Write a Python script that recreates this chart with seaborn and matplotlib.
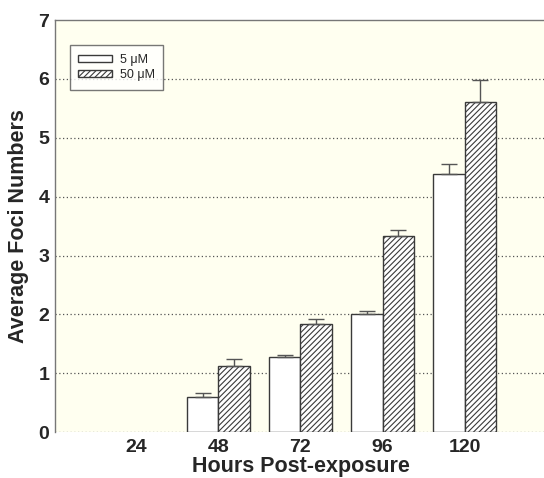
import seaborn as sns
import matplotlib.pyplot as plt
import pandas as pd
import numpy as np

#data
hours = ["24", "48", "72", "96", "120"]
conc_labels = ["5 μM", "50 μM"]
foci_5 = [0.0, 0.60, 1.28, 2.00, 4.38]
err_5 = [0.0, 0.07, 0.03, 0.05, 0.17]
foci_50 = [0.0, 1.13, 1.83, 3.33, 5.60]
err_50 = [0.0, 0.12, 0.10, 0.10, 0.38]

df = pd.DataFrame({
    "Hours": hours * 2,
    "Foci": foci_5 + foci_50,
    "Conc": [conc_labels[0]] * 5 + [conc_labels[1]] * 5,
})

sns.set_style("white")
plt.rcParams["font.family"] = ["Liberation Sans", "DejaVu Sans"]
plt.rcParams["hatch.linewidth"] = 0.8

fig = plt.figure(figsize=(5.44, 4.78), dpi=100)
ax = fig.add_axes([0.101, 0.096, 0.904, 0.862])
ax.set_facecolor("#fffff0")

sns.barplot(data=df, x="Hours", y="Foci", hue="Conc", order=hours, hue_order=conc_labels,
            palette=["white", "white"], edgecolor="#3a3a3a", linewidth=1.0,
            width=0.76, errorbar=None, ax=ax, legend=True)

# hatch the 50 uM bars and add upward error bars
bars = list(ax.patches)[:10]
for i, p in enumerate(bars):
    grp = i // 5
    k = i % 5
    if grp == 1:
        p.set_hatch("//////")
    if p.get_height() == 0:
        p.set_linewidth(0)
    err = err_5[k] if grp == 0 else err_50[k]
    val = foci_5[k] if grp == 0 else foci_50[k]
    if err > 0:
        xc = p.get_x() + p.get_width() / 2
        ax.errorbar(xc, val, yerr=[[0], [err]], fmt="none", ecolor="#555555",
                    elinewidth=1.0, capsize=6, capthick=1.0)

ax.set_ylim(0, 7)
ax.set_xlim(-0.99, 5.0)
ax.set_yticks(range(8))
for y in range(0, 7):
    ax.axhline(y, color="#555555", linestyle=(0, (1, 2)), linewidth=0.9, zorder=0)

ax.tick_params(axis="both", labelsize=14, length=0)
ax.tick_params(axis="x", pad=5)
ax.tick_params(axis="y", pad=4)
for lab in ax.get_xticklabels() + ax.get_yticklabels():
    lab.set_fontweight("bold")
ax.set_xlabel("Hours Post-exposure", fontsize=15.5, fontweight="bold", labelpad=0)
ax.set_ylabel("Average Foci Numbers", fontsize=15.5, fontweight="bold", labelpad=7)

ax.spines["right"].set_visible(False)
ax.spines["bottom"].set_visible(False)
for side in ["left", "top"]:
    ax.spines[side].set_color("#777777")
    ax.spines[side].set_linewidth(1.0)

handles, labels = ax.get_legend_handles_labels()
if len(handles) > 1:
    handles[1].set_hatch("//////")
leg = ax.legend(handles, labels, loc="upper left", bbox_to_anchor=(0.03, 0.939),
                borderaxespad=0, fontsize=9, frameon=True, fancybox=False,
                edgecolor="#555555", handlelength=2.7, handleheight=0.55,
                borderpad=0.7, labelspacing=0.25, handletextpad=0.6)
leg.get_frame().set_linewidth(1.0)
leg.get_frame().set_facecolor("white")

fig.savefig("out.png", dpi=100)
